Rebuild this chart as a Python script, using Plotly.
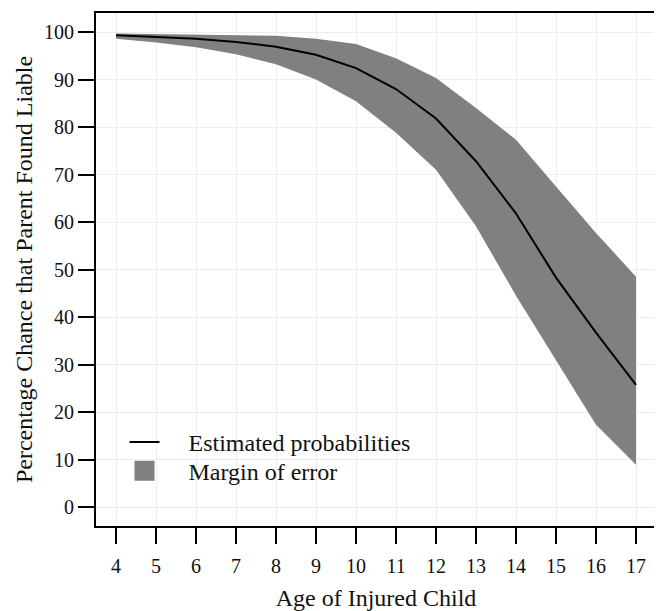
import plotly.graph_objects as go

ages = [4, 5, 6, 7, 8, 9, 10, 11, 12, 13, 14, 15, 16, 17]
estimated = [99.3, 99.0, 98.6, 97.9, 96.9, 95.2, 92.4, 88.0, 81.8, 72.8, 61.8, 48.3, 36.7, 25.7]
upper = [99.7, 99.6, 99.5, 99.4, 99.2, 98.6, 97.5, 94.5, 90.3, 84.0, 77.3, 67.5, 57.7, 48.5]
lower = [98.6, 97.8, 96.8, 95.3, 93.2, 90.0, 85.4, 78.8, 71.0, 59.1, 44.5, 31.0, 17.3, 8.9]

x_ticks = list(range(4, 18))
y_ticks = list(range(0, 101, 10))

FONT = "Liberation Serif, Times New Roman, serif"
BAND = "#808080"
TXT = "#111111"
PAD = "\u00a0" * 4

fig = go.Figure()
fig.add_trace(go.Scatter(x=ages, y=upper, mode="lines", line=dict(width=0),
                         showlegend=False, hoverinfo="skip"))
fig.add_trace(go.Scatter(x=ages, y=lower, mode="lines", line=dict(width=0),
                         fill="tonexty", fillcolor=BAND, showlegend=False, hoverinfo="skip"))
fig.add_trace(go.Scatter(x=ages, y=estimated, mode="lines", line=dict(color="black", width=2),
                         name=PAD + "Estimated probabilities", legend="legend"))
fig.add_trace(go.Scatter(x=[None], y=[None], mode="markers",
                         marker=dict(symbol="square", size=16, color=BAND,
                                     line=dict(color=BAND, width=4)),
                         name=PAD + "Margin of error", legend="legend2"))

axis_common = dict(
    showline=True, linecolor="black", linewidth=2, mirror=True,
    ticks="outside", ticklen=16, tickwidth=2, tickcolor="black",
    showgrid=True, gridcolor="#eeeeee", gridwidth=1, zeroline=False,
    automargin=False,
    tickfont=dict(family=FONT, size=20, color=TXT),
)

fig.update_xaxes(range=[3.5, 17.5], tickvals=x_ticks, ticklabelstandoff=5,
                 title=dict(text="Age of Injured Child", font=dict(family=FONT, size=24, color=TXT),
                            standoff=19),
                 **axis_common)
fig.update_yaxes(range=[-4, 104], tickvals=y_ticks,
                 title=dict(text="Percentage Chance that Parent Found Liable",
                            font=dict(family=FONT, size=24, color=TXT), standoff=5),
                 **axis_common)

leg_common = dict(xanchor="left", yanchor="top", bgcolor="rgba(0,0,0,0)",
                  font=dict(family=FONT, size=24, color=TXT), itemsizing="trace")

# The page body has an 8px default margin, so the figure is 8px smaller and
# margins are reduced by 8px on the top/left to keep the plot area in place.
fig.update_layout(
    width=654, height=603,
    margin=dict(l=88, r=6, t=5, b=85, autoexpand=False),
    paper_bgcolor="white", plot_bgcolor="white",
    font=dict(family=FONT, color=TXT),
    legend=dict(x=0.0509, y=0.2066, **leg_common),
    legend2=dict(x=0.0509, y=0.151, **leg_common),
)

fig.write_html("out.html")
